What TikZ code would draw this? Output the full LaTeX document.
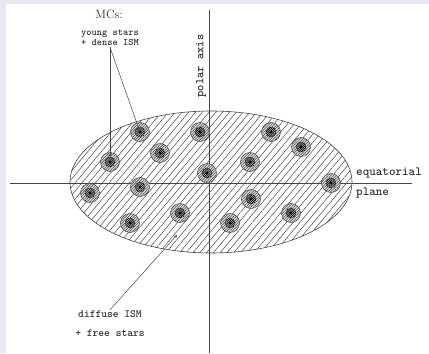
\documentclass[tikz,border=0pt]{standalone}
\usepackage{tikz}
\usetikzlibrary{patterns.meta}
\definecolor{framebg}{RGB}{232,232,243}
\definecolor{inkgray}{RGB}{70,70,70}

\tikzset{
  mc/.style={circle, draw=inkgray, line width=0.5pt, minimum size=19pt, inner sep=0pt,
    preaction={fill=black!12},
    pattern={Lines[angle=45,distance=1.9pt,line width=0.55pt]}, pattern color=inkgray,
    path picture={
      \draw[inkgray, line width=0.5pt, fill=black!30]
        (path picture bounding box.center) circle (5pt);
      \fill[inkgray, pattern={Lines[angle=45,distance=1.5pt,line width=0.6pt]}, pattern color=black]
        (path picture bounding box.center) circle (5pt);
      \fill[black] (path picture bounding box.center) circle (1.7pt);}},
  ttlbl/.style={font=\ttfamily\bfseries\fontsize{11}{13}\selectfont, text=black!80, inner sep=1pt},
  axisline/.style={inkgray, line width=0.6pt},
}

\begin{document}
\begin{tikzpicture}[x=1pt, y=-1pt, >=stealth]
		% frame
		\fill[framebg] (0,0) rectangle (429,353);
		\fill[white] (6,4) rectangle (429,353);
		% galaxy disc (hatched ellipse)
		\draw[inkgray, line width=0.6pt, pattern={Lines[angle=50,distance=5.2pt,line width=0.5pt]}, pattern color=inkgray]
			(211,182) ellipse [x radius=141pt, y radius=71pt];
		% axes
		\coordinate (eqL) at (10,183);
		\coordinate (eqR) at (412,183);
		\coordinate (poT) at (209,10);
		\coordinate (poB) at (209,353);
		\draw[axisline] (eqL) -- (eqR);
		\draw[axisline] (poT) -- (poB);
		% molecular clouds
		\foreach \p [count=\i] in {(140,132),(110,162),(160,153),(200,132),(271,132),(301,147),(250,162),(207,173),
			(90,193),(140,187),(130,223),(180,213),(331,183),(251,199),(291,213),(230,223)}
			\node[mc] (mc\i) at \p {};
		% labels
		\node[font=\rmfamily\fontsize{12}{14}\selectfont, text=black!85] (mcs) at (109,14) {MCs:};
		\node[ttlbl, font=\ttfamily\bfseries\fontsize{10}{10.5}\selectfont, align=center] (ys) at (110,38) {young stars\\+ dense ISM};
		\node[ttlbl, font=\ttfamily\bfseries\fontsize{12}{14}\selectfont, rotate=90] (pa) at (201,66) {polar axis};
		\node[ttlbl, font=\ttfamily\bfseries\fontsize{12.5}{15}\selectfont, anchor=west] (eq) at (355,173) {equatorial};
		\node[ttlbl, font=\ttfamily\bfseries\fontsize{12.5}{15}\selectfont, anchor=west] (pl) at (355,193) {plane};
		\node[ttlbl, font=\ttfamily\bfseries\fontsize{11}{19}\selectfont, align=center] (di) at (110,324) {diffuse ISM\\+ free stars};
		% pointers
		\coordinate (dtip) at (177,235);
		\draw[->, inkgray, line width=0.5pt] (ys.south) -- (mc1.center);
		\draw[->, inkgray, line width=0.5pt, shorten >=5pt] (ys.south) -- (mc2.center);
		\draw[->, inkgray, line width=0.5pt] (di.north) -- (dtip);
	\end{tikzpicture}
\end{document}
